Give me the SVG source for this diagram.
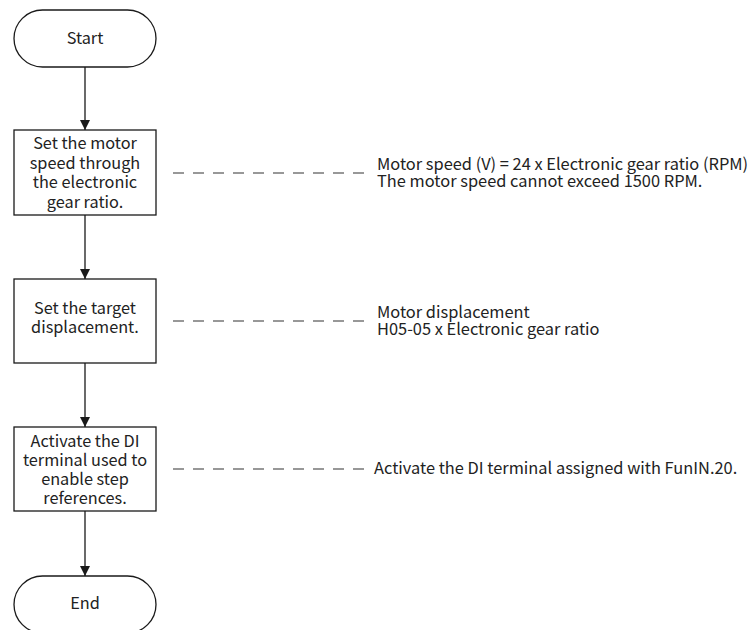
<svg xmlns="http://www.w3.org/2000/svg" width="749" height="630" viewBox="0 0 749 630">
  <defs>
    <marker id="arrow" markerWidth="10" markerHeight="10" refX="10" refY="5" orient="auto" markerUnits="userSpaceOnUse">
      <path d="M0,0 L10,5 L0,10 Z" fill="#1a1a1a"/>
    </marker>
    <style>
      .shape { fill: #ffffff; stroke: #1a1a1a; stroke-width: 1.3; }
      .label { font-family: "Noto Sans CJK SC", "Noto Sans", sans-serif; font-size: 16.3px; fill: #222222; text-anchor: middle; }
      .note { font-family: "Noto Sans CJK SC", "Noto Sans", sans-serif; font-size: 16.4px; fill: #222222; }
      .flow { stroke: #1a1a1a; stroke-width: 1.3; fill: none; marker-end: url(#arrow); }
      .lead { stroke: #333333; stroke-width: 1.2; stroke-dasharray: 11 9; fill: none; }
    </style>
  </defs>

  <g id="start">
    <rect class="shape" x="14" y="10" width="142" height="57" rx="28.5" ry="28.5"/>
    <text class="label" x="85" y="44">Start</text>
  </g>

  <g id="set-speed">
    <rect class="shape" x="14" y="130" width="142" height="85"/>
    <text class="label" x="85" y="149">Set the motor</text>
    <text class="label" x="85" y="168.5">speed through</text>
    <text class="label" x="85" y="188">the electronic</text>
    <text class="label" x="85" y="207.5">gear ratio.</text>
  </g>

  <g id="set-displacement">
    <rect class="shape" x="14" y="279" width="142" height="84"/>
    <text class="label" x="85" y="314">Set the target</text>
    <text class="label" x="85" y="333">displacement.</text>
  </g>

  <g id="activate-di">
    <rect class="shape" x="14" y="427" width="142" height="84"/>
    <text class="label" x="85" y="447">Activate the DI</text>
    <text class="label" x="85" y="466">terminal used to</text>
    <text class="label" x="85" y="485">enable step</text>
    <text class="label" x="85" y="504">references.</text>
  </g>

  <g id="end">
    <rect class="shape" x="14" y="576" width="142" height="57" rx="28.5" ry="28.5"/>
    <text class="label" x="85" y="609">End</text>
  </g>

  <g id="note-speed">
    <text class="note" x="377" y="170">Motor speed (V) = 24 x Electronic gear ratio (RPM)</text>
    <text class="note" x="377" y="187">The motor speed cannot exceed 1500 RPM.</text>
  </g>

  <g id="note-displacement">
    <text class="note" x="377" y="318">Motor displacement</text>
    <text class="note" x="377" y="335">H05-05 x Electronic gear ratio</text>
  </g>

  <g id="note-di">
    <text class="note" x="374" y="474">Activate the DI terminal assigned with FunIN.20.</text>
  </g>

  <g id="connectors">
    <line class="flow" x1="85" y1="67" x2="85" y2="130"/>
    <line class="flow" x1="85" y1="215" x2="85" y2="279"/>
    <line class="flow" x1="85" y1="363" x2="85" y2="427"/>
    <line class="flow" x1="85" y1="511" x2="85" y2="576"/>
    <line class="lead" x1="173" y1="173" x2="364" y2="173"/>
    <line class="lead" x1="173" y1="321" x2="364" y2="321"/>
    <line class="lead" x1="173" y1="469" x2="364" y2="469"/>
  </g>
</svg>
